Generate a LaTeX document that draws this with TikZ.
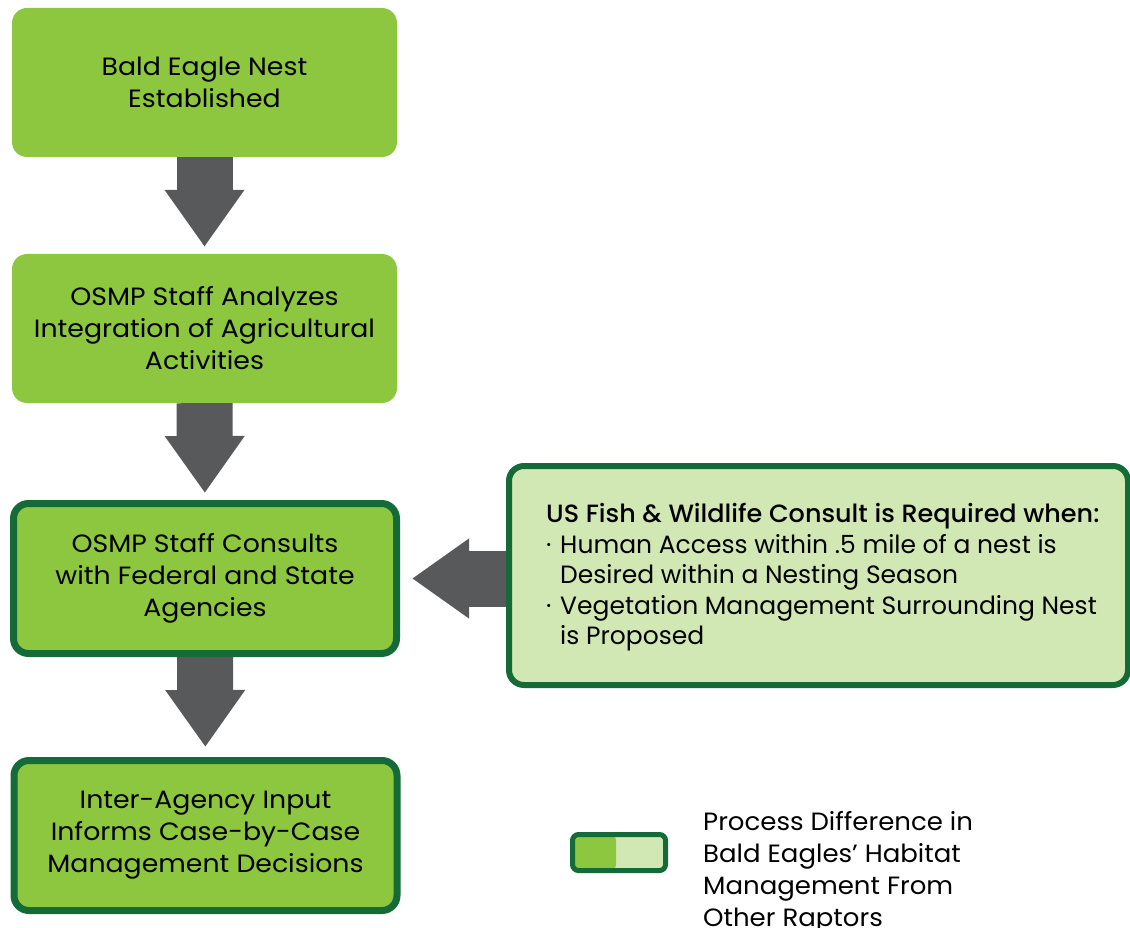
\documentclass[tikz,border=0pt]{standalone}
\usepackage{fontspec}
\setmainfont[FakeStretch=1.07]{Poppins}
\newfontfamily\infofont{Poppins}
\newfontfamily\infomedium[FakeStretch=1.02]{Poppins Medium}
\newfontfamily\keyfont[FakeStretch=1.04]{Poppins}
\usetikzlibrary{arrows.meta}
\definecolor{leafgreen}{HTML}{8DC63F}
\definecolor{palegreen}{HTML}{D2E8B4}
\definecolor{darkgreen}{HTML}{156B37}
\definecolor{arrowgray}{HTML}{58595B}
\tikzstyle{stage}=[rectangle,rounded corners=15pt,fill=leafgreen,minimum width=385pt,minimum height=149pt,inner sep=0pt,align=center,font=\fontsize{25}{32}\selectfont]
\tikzstyle{keystage}=[stage,draw=darkgreen,line width=7pt,minimum width=383pt,minimum height=150pt]
\tikzstyle{infobox}=[rectangle,rounded corners=15pt,fill=palegreen,draw=darkgreen,line width=6pt,minimum width=619pt,minimum height=219pt,inner sep=0pt]
\tikzstyle{flow}=[draw=arrowgray,line width=56pt,-{Triangle[width=76pt,length=57pt,fill=arrowgray]}]

\begin{document}
\begin{tikzpicture}[x=1pt,y=-1pt]
  \useasboundingbox (0,0) rectangle (1130,928);
  % process boxes
  \node[stage] (nest) at (204.5,82.5) {Bald Eagle Nest\\Established};
  \node[stage] (analyze) at (204.5,328.5) {OSMP Staff Analyzes\\Integration of Agricultural\\Activities};
  \node[keystage] (consult) at (205,578.5) {OSMP Staff Consults\\with Federal and State\\Agencies};
  \node[keystage] (decide) at (205.5,835.5) {Inter-Agency Input\\Informs Case-by-Case\\Management Decisions};
  % consult requirements
  \node[infobox] (info) at (818.5,575.5) {};
  \node[anchor=west,align=left,inner sep=0pt,font=\fontsize{25}{30.5}\selectfont\infofont] (infotext) at ([xshift=40pt,yshift=-2pt]info.west)
    {{\infomedium US Fish \& Wildlife Consult is Required when:}\\
     \makebox[14pt][l]{\textperiodcentered}Human Access within .5 mile of a nest is\\
     \hspace*{14pt}Desired within a Nesting Season\\
     \makebox[14pt][l]{\textperiodcentered}Vegetation Management Surrounding Nest\\
     \hspace*{14pt}is Proposed};
  % arrows
  \draw[flow,shorten >=7pt] (nest) -- (analyze);
  \draw[flow,shorten >=7pt] (analyze) -- (consult);
  \draw[flow,shorten >=10pt] (consult) -- (decide);
  \draw[flow,shorten >=12pt] (info.west |- consult.east) -- (consult.east);
  % legend
  \node[rectangle,rounded corners=6pt,fill=palegreen,draw=darkgreen,line width=5pt,minimum width=93pt,minimum height=36pt,
    path picture={\fill[leafgreen] (path picture bounding box.south west) rectangle ([xshift=-3pt]path picture bounding box.north);}]
    (key) at (619,852.5) {};
  \node[anchor=west,align=left,inner sep=0pt,font=\fontsize{25}{32}\selectfont\keyfont] (keytext) at (703,872)
    {Process Difference in\\Bald Eagles’ Habitat\\Management From\\Other Raptors};
\end{tikzpicture}
\end{document}
